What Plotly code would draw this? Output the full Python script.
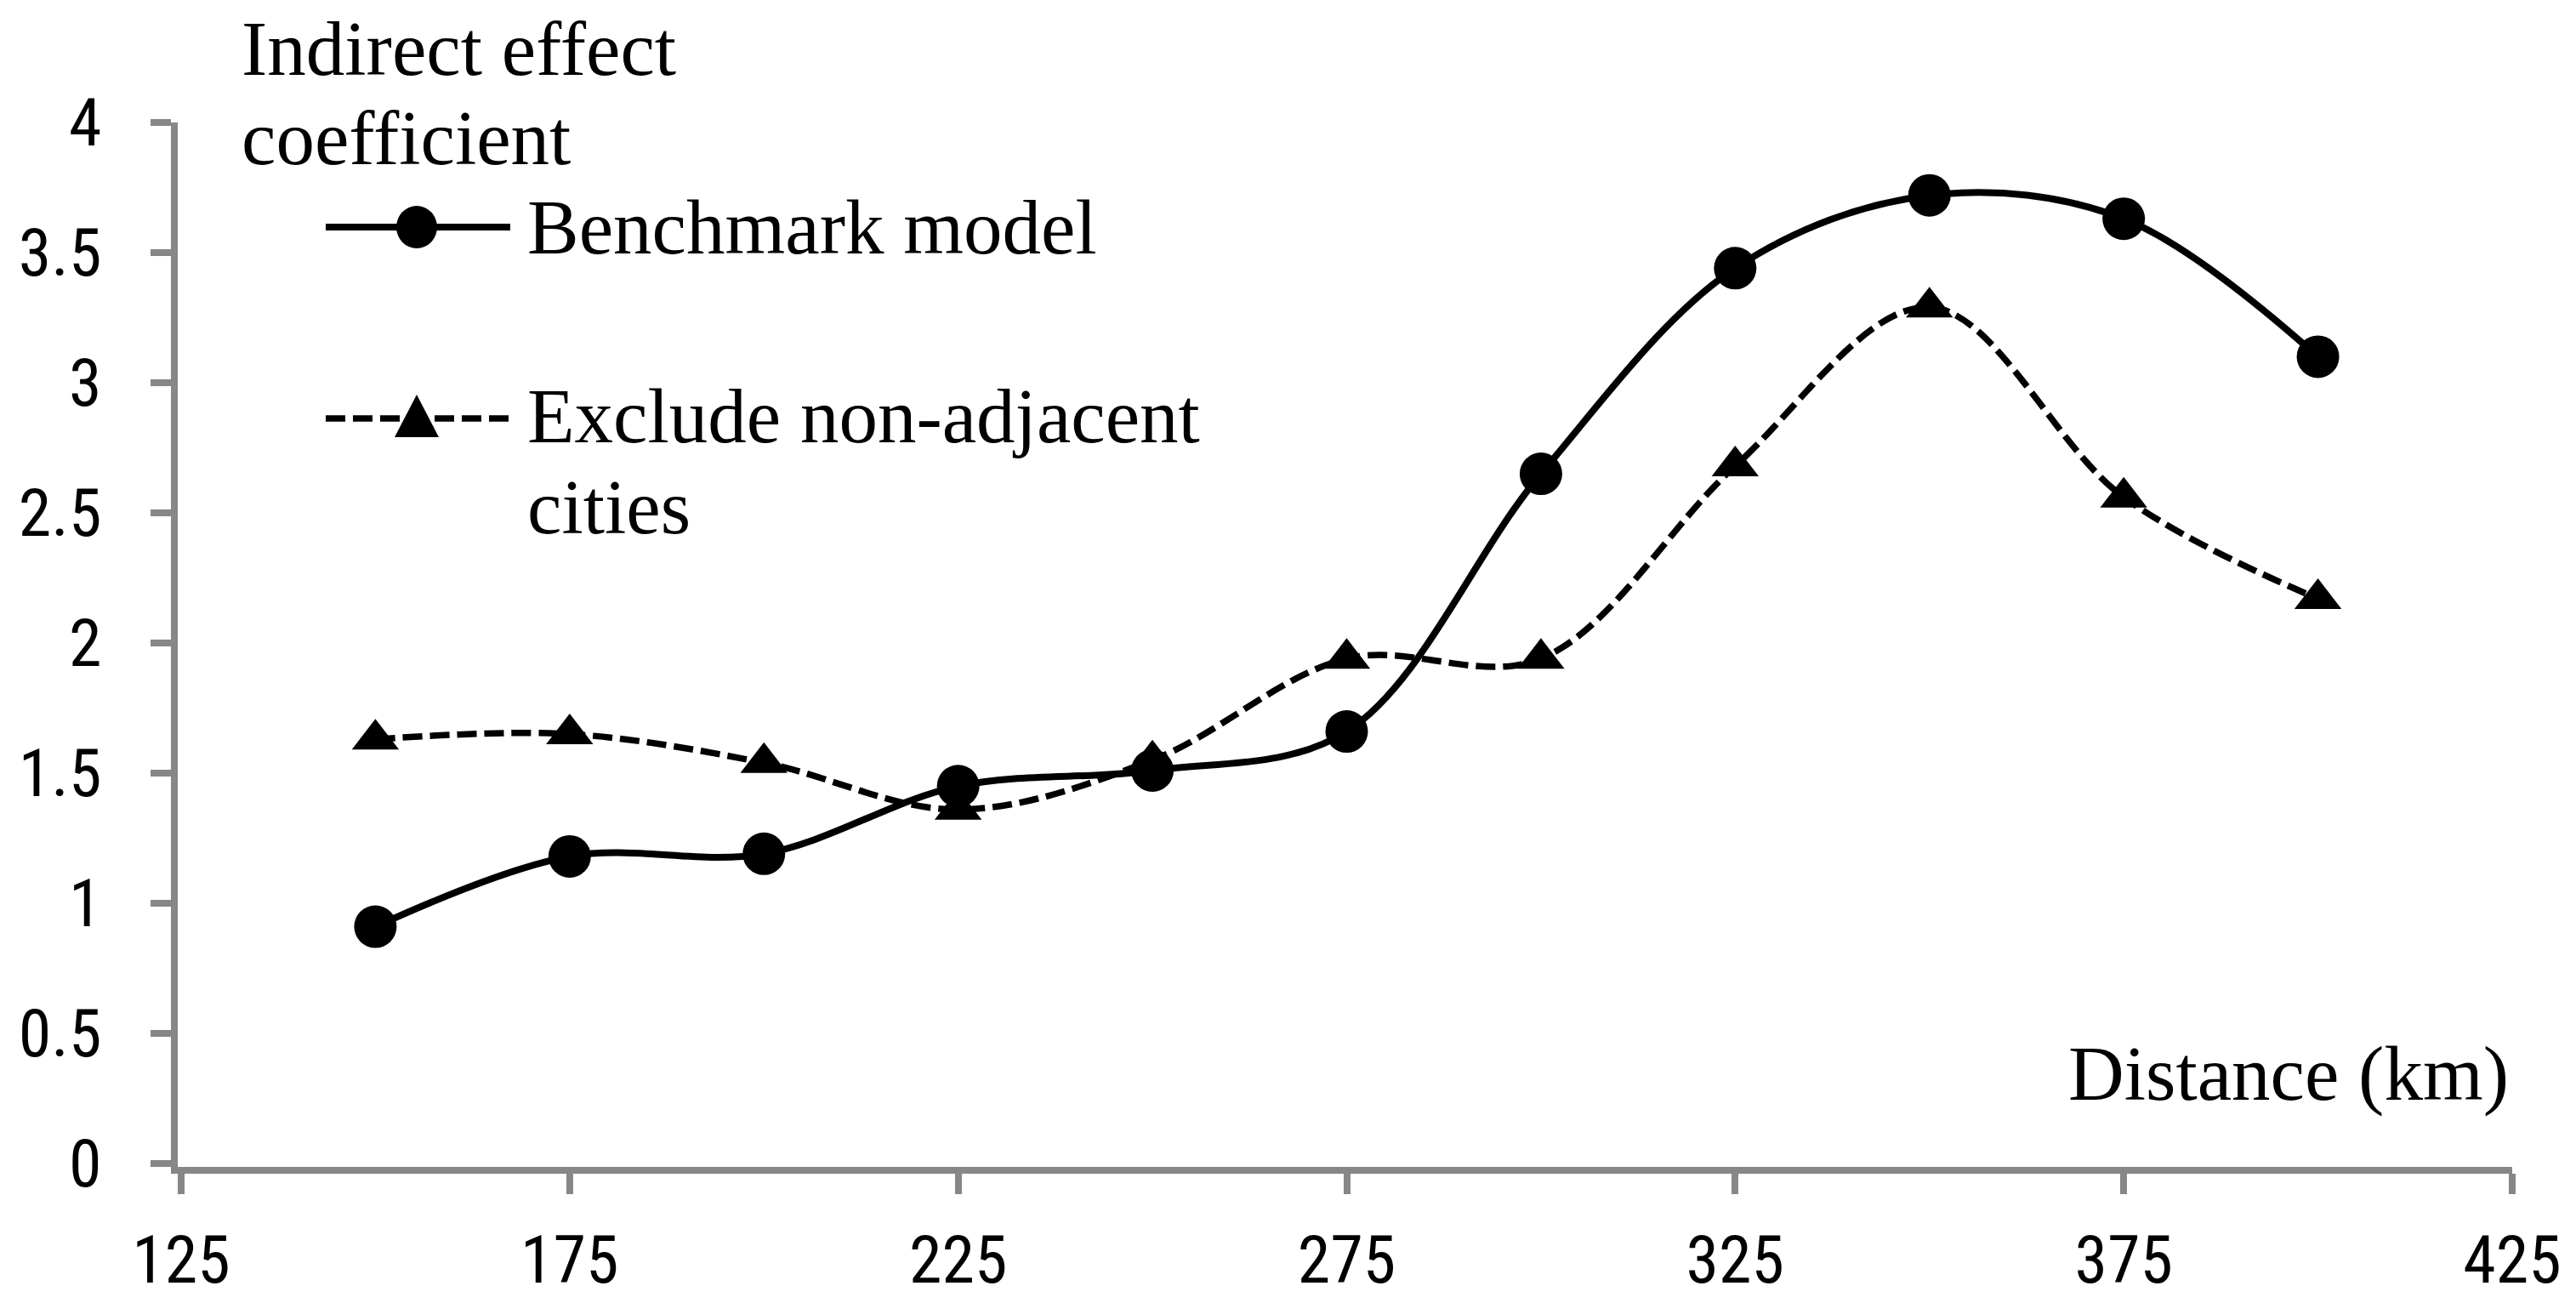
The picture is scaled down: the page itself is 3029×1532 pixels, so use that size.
import plotly.graph_objects as go

# distances (km) and indirect effect coefficients
distance = [150, 175, 200, 225, 250, 275, 300, 325, 350, 375, 400]
benchmark = [0.91, 1.18, 1.19, 1.45, 1.51, 1.66, 2.65, 3.44, 3.72, 3.63, 3.10]
exclude_non_adjacent = [1.63, 1.65, 1.54, 1.36, 1.55, 1.94, 1.94, 2.68, 3.29, 2.56, 2.17]

x_ticks = [125, 175, 225, 275, 325, 375, 425]
y_ticks = [0, 0.5, 1, 1.5, 2, 2.5, 3, 3.5, 4]

W, H = 3029, 1532
PAGE = 8  # default body margin of the html page
L, R, T, B = 201, 83, 136, 168
AXIS_GREY = "#878787"
AXIS_W = 8
SERIF = "Liberation Serif, Times New Roman, serif"
NARROW = "Liberation Sans Narrow, Arial Narrow, Roboto Condensed, DejaVu Sans Condensed, sans-serif"
TEXT_SIZE = 91

# axis lines sit half a line width outside the plot area, so pad the
# ranges to put 125 / 0 right on the line centres
x_pad = (AXIS_W / 2) * 300 / (W - L - R - AXIS_W / 2)
y_pad = (AXIS_W / 2) * 4 / (H - T - B - AXIS_W / 2)


def px_x(px):
    return (px - PAGE - L) / (W - L - R)


def px_y(py):
    return (H - B - (py - PAGE)) / (H - T - B)


fig = go.Figure()
fig.add_trace(go.Scatter(
    x=distance, y=benchmark, mode="lines+markers", name="Benchmark model",
    line=dict(color="black", width=8, shape="spline", smoothing=1.0),
    marker=dict(symbol="circle", size=50, color="black"),
))
fig.add_trace(go.Scatter(
    x=distance, y=exclude_non_adjacent, mode="lines+markers",
    name="Exclude non-adjacent cities",
    line=dict(color="black", width=7.5, dash="23px,9px", shape="spline", smoothing=1.0),
    marker=dict(symbol="triangle-up", size=48, color="black"),
))

fig.update_xaxes(
    range=[125 - x_pad, 425], tickvals=x_ticks, showgrid=False, zeroline=False,
    showline=True, linecolor=AXIS_GREY, linewidth=AXIS_W,
    ticks="outside", ticklen=24, tickwidth=AXIS_W, tickcolor=AXIS_GREY,
    ticklabelstandoff=10,
    tickfont=dict(family=NARROW, size=78, color="black"),
)
fig.update_yaxes(
    range=[0 - y_pad, 4], tickvals=y_ticks, showgrid=False, zeroline=False,
    showline=True, linecolor=AXIS_GREY, linewidth=AXIS_W,
    ticks="outside", ticklen=24, tickwidth=AXIS_W, tickcolor=AXIS_GREY,
    ticklabelstandoff=42,
    tickfont=dict(family=NARROW, size=78, color="black"),
)

# text labels: (text, x px, middle y px, anchor), in screen pixels
labels = [
    ("Indirect effect", 282, 57, "left"),
    ("coefficient", 282, 162, "left"),
    ("Benchmark model", 618, 267, "left"),
    ("Exclude non-adjacent", 618, 489, "left"),
    ("cities", 618, 596, "left"),
    ("Distance (km)", 2952, 1262, "right"),
]
for text, lx, ly, anchor in labels:
    fig.add_annotation(
        text=text, x=px_x(lx), y=px_y(ly), xref="paper", yref="paper",
        xanchor=anchor, yanchor="middle", showarrow=False,
        font=dict(family=SERIF, size=TEXT_SIZE, color="black"),
    )

# hand-placed legend glyphs
fig.add_shape(type="line", xref="paper", yref="paper",
              x0=px_x(383), x1=px_x(600), y0=px_y(267), y1=px_y(267),
              line=dict(color="black", width=8))
fig.add_shape(type="circle", xref="paper", yref="paper",
              xsizemode="pixel", ysizemode="pixel",
              xanchor=px_x(490), yanchor=px_y(267),
              x0=-24, x1=24, y0=-25, y1=25,
              fillcolor="black", line=dict(color="black", width=0))
fig.add_shape(type="line", xref="paper", yref="paper",
              x0=px_x(383), x1=px_x(600), y0=px_y(492), y1=px_y(492),
              line=dict(color="black", width=7.5, dash="23px,9px"))
fig.add_shape(type="path", xref="paper", yref="paper",
              xsizemode="pixel", ysizemode="pixel",
              xanchor=px_x(490), yanchor=px_y(492),
              path="M -26,-22 L 26,-22 L 0,28 Z",
              fillcolor="black", line=dict(color="black", width=0))

fig.update_layout(
    width=W, height=H, showlegend=False,
    margin=dict(l=L, r=R, t=T, b=B, autoexpand=False),
    paper_bgcolor="white", plot_bgcolor="white",
)

fig.write_html("out.html")
